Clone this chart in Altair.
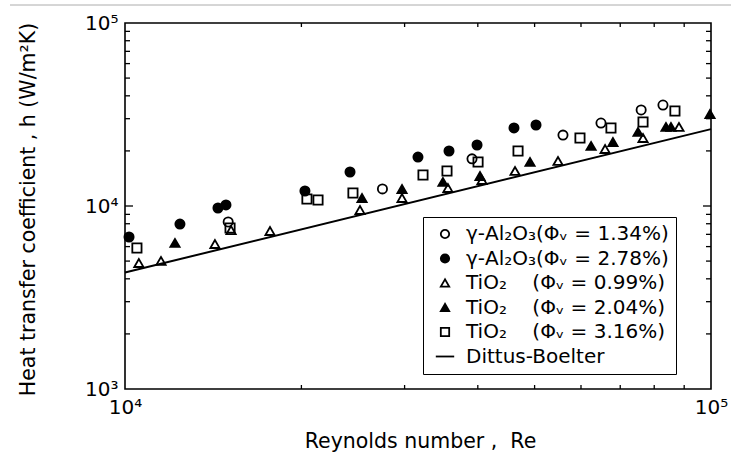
import altair as alt
import pandas as pd

# Heat transfer coefficient h (W/m²K) of nanofluids against Reynolds number
NB = "\u00a0"
SERIES = [
    "γ-Al₂O₃(Φᵥ = 1.34%)",
    "γ-Al₂O₃(Φᵥ = 2.78%)",
    "TiO₂" + NB * 4 + "(Φᵥ = 0.99%)",
    "TiO₂" + NB * 4 + "(Φᵥ = 2.04%)",
    "TiO₂" + NB * 4 + "(Φᵥ = 3.16%)",
    "Dittus-Boelter",
]

al_134_re = [15000, 27500, 39100, 55900, 64900, 76000, 82800]
al_134_h = [8180, 12400, 18100, 24400, 28400, 33500, 35600]

al_278_re = [10160, 12410, 14410, 14870, 20280, 24210, 31620, 35720, 39880, 46110, 50280]
al_278_h = [6770, 7970, 9750, 10130, 12080, 15340, 18520, 19980, 21540, 26690, 27710]

ti_099_re = [10560, 11520, 14240, 15170, 17680, 25180, 29700, 35570, 40670, 46300,
             54820, 65960, 76560, 88180]
ti_099_h = [4880, 5010, 6200, 7390, 7300, 9510, 11060, 12540, 13870, 15540,
            17620, 20490, 23530, 27030]

ti_204_re = [12170, 25380, 29700, 34880, 40350, 49110, 62430, 68030, 75070, 83790,
             85450, 99600]
ti_204_h = [6280, 11060, 12380, 13530, 14580, 17400, 21280, 22370, 25380, 27030,
            27030, 31810]

ti_316_re = [10480, 15110, 20440, 21350, 24490, 32250, 35440, 40040, 46850, 59760,
             67500, 76560, 86790]
ti_316_h = [5900, 7580, 10920, 10790, 11780, 14770, 15540, 17400, 19980, 23530,
            26690, 28770, 33040]

# Dittus-Boelter correlation, end points
db_re = [10000, 100000]
db_h = [4330, 26300]

# log-axis minor tick positions
x_minor = [20000, 30000, 40000, 50000, 60000, 70000, 80000, 90000]
y_minor = [2000, 3000, 4000, 5000, 6000, 7000, 8000, 9000,
           20000, 30000, 40000, 50000, 60000, 70000, 80000, 90000]
y_major = [10000]

rows = []
for name, xs_, ys_ in [
    (SERIES[0], al_134_re, al_134_h),
    (SERIES[1], al_278_re, al_278_h),
    (SERIES[2], ti_099_re, ti_099_h),
    (SERIES[3], ti_204_re, ti_204_h),
    (SERIES[4], ti_316_re, ti_316_h),
]:
    for a, b in zip(xs_, ys_):
        rows.append({"series": name, "Re": a, "h": b})
pts = pd.DataFrame(rows)
db = pd.DataFrame({"Re": db_re, "h": db_h})

W, H = 586, 366
FONT = "DejaVu Sans"

xscale = alt.Scale(type="log", domain=[10000, 100000], nice=False)
yscale = alt.Scale(type="log", domain=[1000, 100000], nice=False)

legend = alt.Legend(
    title=None,
    orient="none",
    legendX=298,
    legendY=194,
    padding=7,
    strokeColor="black",
    fillColor="white",
    symbolOffset=5,
    symbolSize=70,
    symbolStrokeColor="black",
    symbolStrokeWidth=1.8,
    labelFont=FONT,
    labelFontSize=20,
    labelColor="black",
    labelOffset=11,
    labelLimit=400,
    rowPadding=4.5,
)

shape_scale = alt.Scale(
    domain=SERIES,
    range=["circle", "circle", "triangle-up", "triangle-up", "square", "M-2.2,0L2.2,0"],
)
fill_scale = alt.Scale(
    domain=SERIES,
    range=["transparent", "black", "transparent", "black", "transparent", "transparent"],
)
stroke_scale = alt.Scale(domain=SERIES, range=["black"] * 6)

x_axis = alt.Axis(
    values=[10000, 100000],
    labelExpr="datum.value == 10000 ? '10⁴' : '10⁵'",
    title="Reynolds number\u00a0,\u00a0\u00a0Re",
    titleFont=FONT, titleFontSize=20.5, titleFontWeight="normal", titleColor="black",
    titleX=295, titleY=58, titleBaseline="alphabetic",
    labelFont=FONT, labelFontSize=20, labelColor="black",
    labelFlush=False, labelPadding=8, labelBaseline="top", labelOverlap=False,
    ticks=False, domain=False, grid=False,
)
y_axis = alt.Axis(
    values=[1000, 10000, 100000],
    labelExpr="datum.value == 1000 ? '10³' : (datum.value == 10000 ? '10⁴' : '10⁵')",
    title="Heat transfer coefficient , h (W/m²K)",
    titleFont=FONT, titleFontSize=20.5, titleFontWeight="normal", titleColor="black",
    titleX=-97, titleY=186, titleAngle=-90, titleAlign="center", titleBaseline="middle",
    labelFont=FONT, labelFontSize=20, labelColor="black",
    labelPadding=7, labelBaseline="middle", labelOverlap=False,
    ticks=False, domain=False, grid=False,
)

X = alt.X("Re:Q", scale=xscale, axis=x_axis)
Y = alt.Y("h:Q", scale=yscale, axis=y_axis)

points = alt.Chart(pts).mark_point(
    stroke="black", strokeWidth=1.8, opacity=1, size=85
).encode(
    x=X,
    y=Y,
    shape=alt.Shape("series:N", scale=shape_scale, legend=legend),
    fill=alt.Fill("series:N", scale=fill_scale, legend=legend),
    stroke=alt.Stroke("series:N", scale=stroke_scale, legend=legend),
)

line = alt.Chart(db).mark_line(color="black", strokeWidth=2).encode(x=X, y=Y)

xt = pd.DataFrame({"Re": x_minor})
ytm = pd.DataFrame({"h": y_minor})
ytM = pd.DataFrame({"h": y_major})

tick_style = dict(color="black", strokeWidth=1.3)
x_bottom = alt.Chart(xt).mark_rule(**tick_style).encode(
    x=X, y=alt.value(H), y2=alt.value(H - 4))
x_top = alt.Chart(xt).mark_rule(**tick_style).encode(
    x=X, y=alt.value(0), y2=alt.value(4))
y_left = alt.Chart(ytm).mark_rule(**tick_style).encode(
    y=Y, x=alt.value(0), x2=alt.value(5))
y_right = alt.Chart(ytm).mark_rule(**tick_style).encode(
    y=Y, x=alt.value(W), x2=alt.value(W - 5))
y_left_major = alt.Chart(ytM).mark_rule(**tick_style).encode(
    y=Y, x=alt.value(0), x2=alt.value(8))
y_right_major = alt.Chart(ytM).mark_rule(**tick_style).encode(
    y=Y, x=alt.value(W), x2=alt.value(W - 8))

# thin grey rule across the top of the page
page_rule = alt.Chart(db).mark_rule(color="#c8c8c8", strokeWidth=1).encode(
    x=alt.value(-115), x2=alt.value(606), y=alt.value(-18))

chart = alt.layer(
    points, line, x_bottom, x_top, y_left, y_right, y_left_major, y_right_major, page_rule
).properties(
    width=W,
    height=H,
    padding={"left": 125, "top": 23, "right": 20, "bottom": 67},
    autosize=alt.AutoSizeParams(type="none"),
    background="white",
).configure_view(
    stroke="black", strokeWidth=1.6
)

chart.save("out.html", embed_options={"renderer": "svg", "actions": False})
